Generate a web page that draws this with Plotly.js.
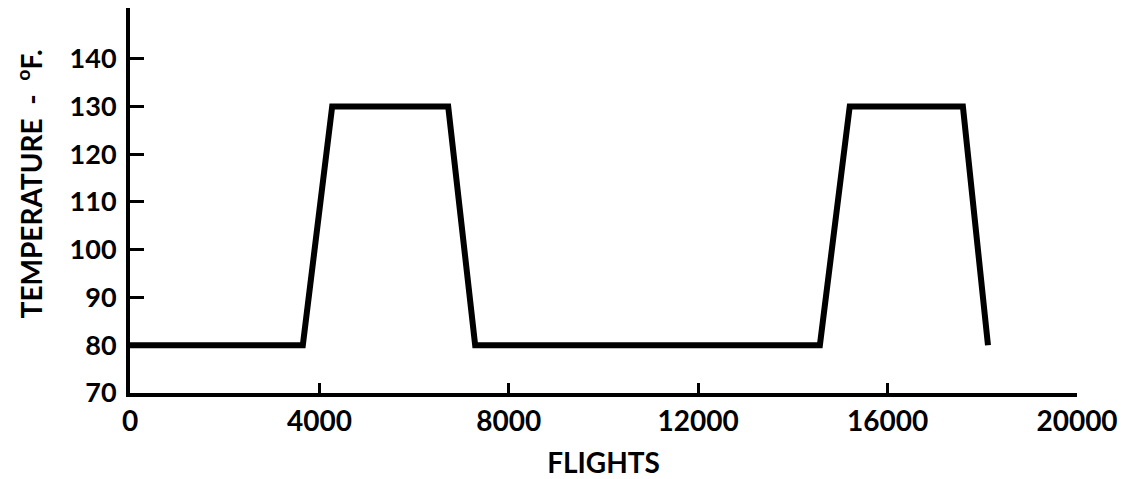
<!DOCTYPE html>
<html>
<head>
<meta charset="utf-8">
<script src="https://cdn.plot.ly/plotly-3.0.1.min.js"></script>
<style>html,body{margin:0;padding:0;background:#fff;}#chart{width:1136px;height:479px;}</style>
</head>
<body>
<div id="chart"></div>
<script>
const flights = [0, 3650, 4270, 6720, 7290, 14570, 15200, 17590, 18120];
const temperature = [80, 80, 130, 130, 80, 80, 130, 130, 80];
const xTickVals = [0, 4000, 8000, 12000, 16000, 20000];
const xTickText = ['0', '4000', '8000', '12000', '16000', '20000'];
const yTickVals = [70, 80, 90, 100, 110, 120, 130, 140];
const yTickText = ['70', '80', '90', '100', '110', '120', '130', '140'];

const fontFam = 'Lato, "DejaVu Sans", sans-serif';

const trace = {
  x: flights,
  y: temperature,
  mode: 'lines',
  line: {color: '#000', width: 6},
  hoverinfo: 'skip'
};

const layout = {
  width: 1136,
  height: 479,
  margin: {l: 130, r: 59, t: 8, b: 86},
  paper_bgcolor: '#fff',
  plot_bgcolor: '#fff',
  showlegend: false,
  font: {family: fontFam, color: '#000', size: 24},
  xaxis: {
    range: [0, 20000],
    tickvals: xTickVals,
    ticktext: xTickText,
    ticks: 'inside',
    ticklen: 10,
    tickwidth: 3,
    tickcolor: '#000',
    showline: true,
    linewidth: 4,
    linecolor: '#000',
    showgrid: false,
    zeroline: false,
    ticklabelstandoff: 0,
    tickfont: {family: fontFam, size: 28, color: '#000', weight: 700},
    title: {text: 'FLIGHTS', font: {family: fontFam, size: 28, color: '#000', weight: 700}, standoff: 36}
  },
  yaxis: {
    range: [70, 150.6],
    tickvals: yTickVals,
    ticktext: yTickText,
    ticks: 'inside',
    ticklen: 14,
    tickwidth: 3,
    tickcolor: '#000',
    showline: true,
    linewidth: 4,
    linecolor: '#000',
    showgrid: false,
    zeroline: false,
    ticklabelstandoff: 4,
    tickfont: {family: fontFam, size: 27, color: '#000', weight: 700},
    title: {text: '&nbsp;&nbsp;&nbsp;&nbsp;&nbsp;TEMPERATURE  -  <sup>o</sup>F.', font: {family: fontFam, size: 28, color: '#000', weight: 700}, standoff: 20}
  }
};

Plotly.newPlot('chart', [trace], layout, {displayModeBar: false, staticPlot: true});
</script>
</body>
</html>
